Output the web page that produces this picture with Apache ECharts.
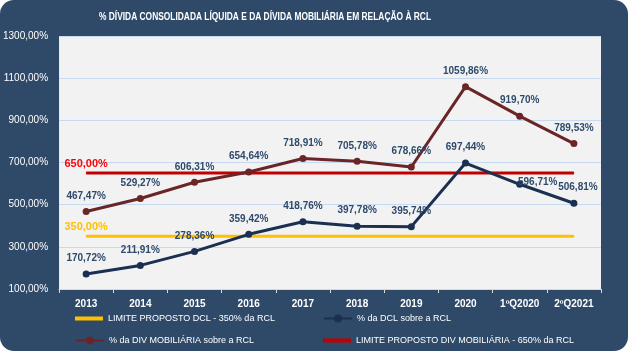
<!DOCTYPE html>
<html><head><meta charset="utf-8">
<script src="https://cdn.jsdelivr.net/npm/echarts@6/dist/echarts.min.js"></script>
<style>html,body{margin:0;padding:0;background:#fff}#c{width:628px;height:351px}</style>
</head><body><div id="c"></div>
<script>
const categories = ['2013','2014','2015','2016','2017','2018','2019','2020','1ºQ2020','2ºQ2021'];
const dclValues = [170.72, 211.91, 278.36, 359.42, 418.76, 397.78, 395.74, 697.44, 596.71, 506.81];
const mobValues = [467.47, 529.27, 606.31, 654.64, 718.91, 705.78, 678.66, 1059.86, 919.70, 789.53];
const limitDcl = 350;
const limitMob = 650;
const seriesNames = ['LIMITE PROPOSTO DCL - 350% da RCL', '% da DCL sobre a RCL', '% da DIV MOBILIÁRIA sobre a RCL', 'LIMITE PROPOSTO DIV MOBILIÁRIA - 650% da RCL'];
const titleText = '% DÍVIDA CONSOLIDADA LÍQUIDA E DA DÍVIDA MOBILIÁRIA EM RELAÇÃO À RCL';

const fmt = v => v.toFixed(2).replace('.', ',') + '%';
const FONT = 'Liberation Sans';
const labelColor = '#2E4A6B';

const dclLabelAdjust = {8: [18, 13], 9: [4, 0]};

const chart = echarts.init(document.getElementById('c'));
function limitSeries(v, color, labelCol, name) {
  return {
    name: name, type: 'line', z: 1, symbol: 'circle', symbolSize: 1, showSymbol: true,
    lineStyle: {color: color, width: 3}, itemStyle: {color: color},
    emphasis: {disabled: true},
    label: {show: false},
    data: categories.map((c, i) => i === 0 ? {value: v, label: {show: true, position: 'top', distance: 3, formatter: () => fmt(v), color: labelCol, fontWeight: 'bold', fontSize: 11, fontFamily: FONT}} : v)
  };
}

const legendBase = (name, left, top, icon) => ({
  data: [icon ? {name: name, icon: icon} : name], left: left, top: top, itemWidth: 28, itemHeight: icon ? 4 : 10, itemGap: 2,
  textStyle: {color: '#fff', fontSize: 9, fontFamily: FONT}, selectedMode: false
});

chart.setOption({
  animation: false,
  graphic: [
    {type: 'rect', shape: {x: 0, y: 0, width: 628, height: 351, r: 14}, style: {fill: '#2F4A69'}, z: -10, silent: true},
    {type: 'text', x: 265, y: 17, scaleX: 0.73, z: 10, silent: true,
      style: {text: titleText, fill: '#fff', font: 'bold 11.5px Liberation Sans', align: 'center', verticalAlign: 'middle'}}
  ],
  grid: {left: 55, right: 27, top: 36, bottom: 62, show: true, backgroundColor: '#F2F2F2', borderWidth: 0},
  legend: [
    legendBase(seriesNames[0], 70, 309, 'rect'),
    legendBase(seriesNames[1], 318, 309),
    legendBase(seriesNames[2], 70, 331),
    legendBase(seriesNames[3], 318, 331, 'rect')
  ],
  xAxis: {type: 'category', data: categories, boundaryGap: true,
    axisLine: {show: true, lineStyle: {color: '#D9D9D9'}}, axisTick: {show: true, length: 4, lineStyle: {color: '#D9D9D9'}},
    axisLabel: {color: '#fff', fontWeight: 'bold', fontSize: 10, fontFamily: FONT, margin: 10}},
  yAxis: {type: 'value', min: 100, max: 1300, interval: 200,
    axisLine: {show: false}, axisTick: {show: false},
    splitLine: {lineStyle: {color: '#C6D9F0', width: 1}},
    axisLabel: {color: '#fff', fontSize: 10, fontFamily: FONT, margin: 11, formatter: v => v.toFixed(2).replace('.', ',') + '%'}},
  series: [
    limitSeries(limitDcl, '#FFC000', '#FFC000', seriesNames[0]),
    {name: seriesNames[1], type: 'line', z: 3,
      data: dclValues.map((v, i) => dclLabelAdjust[i] ? {value: v, label: {offset: dclLabelAdjust[i]}} : v),
      symbol: 'circle', symbolSize: 7, lineStyle: {color: '#1B3050', width: 3}, itemStyle: {color: '#1B3050'},
      label: {show: true, position: 'top', distance: 7, color: labelColor, fontWeight: 'bold', fontSize: 10, fontFamily: FONT, formatter: p => fmt(p.value)}},
    {name: seriesNames[2], type: 'line', z: 3, data: mobValues,
      symbol: 'circle', symbolSize: 7, lineStyle: {color: '#6A2527', width: 3}, itemStyle: {color: '#6A2527'},
      label: {show: true, position: 'top', distance: 7, color: labelColor, fontWeight: 'bold', fontSize: 10, fontFamily: FONT, formatter: p => fmt(p.value)}},
    limitSeries(limitMob, '#C00000', '#FF0000', seriesNames[3])
  ]
});
</script></body></html>
